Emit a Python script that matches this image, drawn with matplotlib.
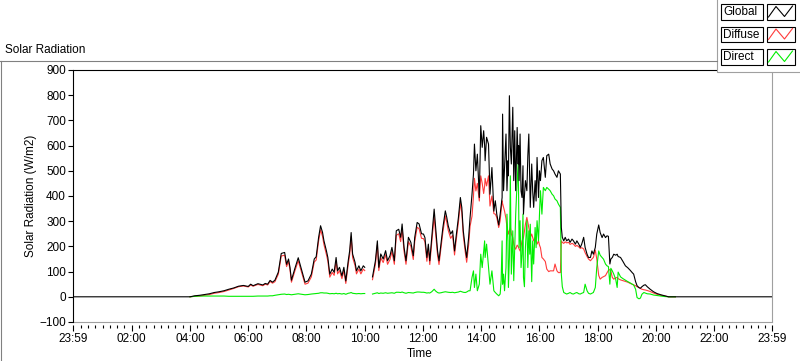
import numpy as np
import matplotlib
matplotlib.use("Agg")
import matplotlib.pyplot as plt
from matplotlib.patches import Rectangle

plt.rcParams['font.family'] = ['Liberation Sans', 'DejaVu Sans']
plt.rcParams['font.size'] = 8

# --- data (W/m2), None = no data ------------------------------------------
times = ["00:00", "04:00", "04:10", "04:20", "04:30", "04:40", "04:50", "05:00",
         "05:10", "05:20", "05:30", "05:40", "05:50", "06:00", "06:05", "06:10",
         "06:20", "06:30", "06:35", "06:40", "06:45", "06:50", "06:55", "07:02",
         "07:08", "07:15", "07:19", "07:23", "07:26", "07:29", "07:36", "07:43",
         "07:50", "07:57", "08:03", "08:10", "08:16", "08:20", "08:25", "08:29",
         "08:33", "08:36", "08:41", "08:44", "08:48", "08:53", "08:57", "09:01",
         "09:04", "09:08", "09:13", "09:17", "09:21", "09:26", "09:29", "09:32",
         "09:35", "09:40", "09:43", "09:48", "09:52", "09:57", "10:00", "10:08",
         "10:16", "10:22", "10:26", "10:29", "10:33", "10:38", "10:43", "10:47",
         "10:52", "10:56", "11:01", "11:05", "11:10", "11:14", "11:17", "11:21",
         "11:25", "11:30", "11:35", "11:40", "11:43", "11:48", "11:52", "11:57",
         "12:01", "12:04", "12:08", "12:11", "12:14", "12:18", "12:23", "12:26",
         "12:30", "12:33", "12:37", "12:41", "12:46", "12:49", "12:52", "12:57",
         "13:01", "13:05", "13:08", "13:13", "13:17", "13:20", "13:23", "13:27",
         "13:30", "13:34", "13:37", "13:41", "13:44", "13:46", "13:49", "13:52",
         "13:56", "13:59", "14:02", "14:05", "14:07", "14:08", "14:11", "14:15",
         "14:18", "14:22", "14:26", "14:29", "14:32", "14:36", "14:39", "14:41",
         "14:43", "14:44", "14:46", "14:48", "14:51", "14:53", "14:55", "14:56",
         "14:58", "15:00", "15:02", "15:05", "15:07", "15:09", "15:11", "15:14",
         "15:16", "15:17", "15:18", "15:20", "15:22", "15:24", "15:26", "15:27",
         "15:29", "15:31", "15:34", "15:36", "15:38", "15:40", "15:41", "15:44",
         "15:46", "15:48", "15:51", "15:53", "15:55", "15:58", "16:00", "16:02",
         "16:05", "16:08", "16:12", "16:15", "16:19", "16:22", "16:26", "16:29",
         "16:32", "16:36", "16:39", "16:43", "16:45", "16:47", "16:50", "16:53",
         "16:56", "17:00", "17:03", "17:07", "17:10", "17:14", "17:17", "17:21",
         "17:24", "17:27", "17:31", "17:34", "17:38", "17:41", "17:45", "17:48",
         "17:51", "17:55", "17:58", "18:02", "18:05", "18:09", "18:12", "18:16",
         "18:19", "18:22", "18:25", "18:27", "18:30", "18:33", "18:37", "18:40",
         "18:42", "18:47", "18:52", "18:57", "19:02", "19:07", "19:11", "19:14",
         "19:18", "19:21", "19:25", "19:28", "19:31", "19:35", "19:38", "19:42",
         "19:48", "19:55", "20:02", "20:10", "20:18", "20:26", "20:40", "23:59"]

global_wm2 = [0, 0, 4, 6, 9, 12, 17, 20,
              24, 30, 35, 42, 45, 41, 50, 44,
              52, 47, 53, 50, 65, 58, 66, 98,
              172, 176, 129, 150, 117, 66, 112, 155,
              106, 58, 63, 90, 150, 159, 236, 282,
              256, 222, 183, 156, 90, 110, 97, 156,
              103, 117, 83, 117, 63, 143, 183, 255,
              170, 137, 103, 123, 103, 123, 117, None,
              79, 143, 222, 117, 170, 150, 183, 143,
              163, 196, 143, 262, 268, 236, 289, 196,
              143, 236, 216, 163, 236, 295, 289, 250,
              249, 235, 156, 209, 143, 235, 348, 275,
              182, 143, 209, 275, 341, 315, 282, 249,
              262, 182, 235, 315, 394, 354, 262, 196,
              156, 235, 315, 407, 487, 606, 500, 566,
              394, 679, 593, 659, 600, 540, 633, 606,
              407, 513, 340, 381, 328, 285, 328, 360,
              394, 725, 421, 514, 646, 421, 540, 480,
              798, 593, 527, 752, 461, 659, 421, 672,
              527, 600, 461, 646, 420, 394, 520, 328,
              400, 461, 421, 560, 646, 450, 355, 527,
              420, 355, 461, 380, 553, 394, 500, 461,
              540, 553, 474, 560, 566, 527, 507, 500,
              487, 474, 500, 487, 275, 236, 222, 236,
              222, 229, 216, 229, 222, 209, 222, 209,
              196, 209, 236, 196, 169, 156, 156, 182,
              169, 196, 249, 285, 255, 235, 249, 235,
              242, 240, 130, 150, 156, 169, 165, 169,
              160, 156, 140, 123, 115, 105, 96, 90,
              60, 44, 36, 34, 40, 46, 48, 40,
              30, 20, 13, 8, 4, 0, 0, 0]

diffuse_wm2 = [None, 0, 2, 3, 6, 9, 14, 17,
               21, 27, 33, 40, 43, 39, 47, 42,
               49, 44, 50, 47, 61, 54, 60, 90,
               162, 165, 120, 140, 108, 58, 102, 143,
               96, 50, 54, 79, 138, 146, 222, 266,
               240, 207, 168, 142, 78, 97, 85, 142,
               91, 104, 72, 104, 53, 129, 168, 238,
               156, 124, 91, 110, 91, 110, 104, None,
               68, 129, 206, 104, 155, 136, 167, 129,
               148, 180, 129, 244, 250, 219, 270, 180,
               129, 219, 200, 148, 219, 276, 270, 232,
               231, 218, 141, 193, 128, 215, 318, 252,
               165, 128, 193, 257, 321, 296, 264, 232,
               244, 166, 218, 296, 372, 334, 244, 179,
               137, 205, 280, 320, 400, 470, 420, 450,
               380, 480, 450, 410, 440, 470, 440, 480,
               360, 400, 330, 328, 315, 275, 302, 340,
               381, 370, 355, 340, 310, 275, 260, 249,
               262, 275, 250, 235, 209, 195, 189, 205,
               200, 195, 190, 182, 200, 222, 230, 235,
               260, 288, 315, 295, 275, 255, 235, 249,
               235, 222, 235, 220, 209, 222, 205, 195,
               156, 150, 140, 110, 100, 103, 103, 103,
               130, 103, 96, 96, 222, 216, 212, 218,
               214, 216, 208, 212, 209, 200, 204, 198,
               192, 195, 190, 175, 160, 150, 143, 150,
               156, 185, 150, 85, 70, 77, 80, 84,
               95, 105, 108, 103, 77, 70, 75, 77,
               72, 67, 64, 61, 58, 53, 50, 47,
               44, 40, 37, 33, 30, 28, 27, 25,
               21, 15, 10, 6, 3, 0, 0, None]

direct_wm2 = [None, 0, 2, 3, 3, 3, 3, 3,
              3, 2, 2, 2, 2, 2, 2, 2,
              3, 3, 3, 3, 4, 4, 6, 8,
              10, 11, 9, 10, 9, 8, 10, 12,
              10, 8, 9, 11, 12, 13, 14, 16,
              16, 15, 15, 14, 12, 13, 12, 14,
              12, 13, 11, 13, 10, 14, 15, 17,
              14, 13, 12, 13, 12, 13, 13, None,
              11, 14, 16, 13, 15, 14, 16, 14,
              15, 16, 14, 18, 18, 17, 19, 16,
              14, 17, 16, 15, 17, 19, 19, 18,
              18, 17, 15, 16, 15, 20, 30, 23,
              17, 15, 16, 18, 20, 19, 18, 17,
              18, 16, 17, 19, 22, 20, 18, 17,
              19, 24, 24, 77, 103, 37, 90, 24,
              50, 169, 116, 182, 222, 156, 209, 116,
              50, 103, 24, 17, 11, 4, 11, 64,
              222, 50, 90, 24, 116, 328, 222, 37,
              156, 480, 90, 262, 64, 195, 328, 461,
              527, 394, 195, 302, 116, 169, 328, 77,
              40, 195, 302, 116, 262, 169, 288, 60,
              222, 130, 275, 195, 302, 222, 328, 421,
              328, 434, 421, 434, 427, 421, 407, 401,
              388, 381, 368, 355, 90, 40, 17, 14,
              11, 14, 17, 12, 11, 15, 17, 12,
              11, 14, 17, 50, 24, 14, 11, 14,
              17, 37, 116, 182, 165, 156, 149, 130,
              123, 120, 50, 113, 103, 90, 70, 37,
              98, 79, 72, 66, 60, 55, 50, 47,
              30, -3, -8, -5, 10, 17, 15, 12,
              11, 7, 5, 3, 1, 0, 0, None]

tick_minutes = [-1, 120, 240, 360, 480, 600, 720, 840, 960, 1080, 1200, 1320, 1439]
tick_labels = ["23:59", "02:00", "04:00", "06:00", "08:00", "10:00", "12:00",
               "14:00", "16:00", "18:00", "20:00", "22:00", "23:59"]
legend_names = ["Global", "Diffuse", "Direct"]
line_colors = ["#000000", "#ff3b3b", "#00ee00"]

# --- convert -----------------------------------------------------------------
minutes = np.array([int(t[:2]) * 60 + int(t[3:]) for t in times], dtype=float)
minutes[-1] = 1439
series = [np.array(s, dtype=float) for s in (global_wm2, diffuse_wm2, direct_wm2)]

fig = plt.figure(figsize=(8, 3.61), dpi=100)
W, H = 800, 361
ax = fig.add_axes([73 / W, 39 / H, 699 / W, 252 / H])

# thin traces; global drawn on top like in the original
for vals, col, z in zip(series, line_colors, (3, 2, 2.5)):
    ax.plot(minutes, vals, color=col, lw=0.8, zorder=z)

ax.set_xlim(-1, 1439)
ax.set_ylim(-100, 900)
ax.set_yticks(np.arange(-100, 901, 100))
ax.set_xticks(tick_minutes)
ax.set_xticklabels(tick_labels)
ax.set_xticks([m for m in range(15, 1439, 15) if m % 120 != 0], minor=True)

for side in ("top", "left"):
    ax.spines[side].set_color("black")
    ax.spines[side].set_linewidth(0.8)
ax.spines["right"].set_color("#a0a0a0")
ax.spines["right"].set_linewidth(0.8)
ax.spines["bottom"].set_position(("outward", 2))
ax.spines["bottom"].set_visible(False)
ax.plot([0, 1], [0, 0], transform=ax.transAxes, color="#a0a0a0", lw=0.8, clip_on=False)

ax.tick_params(axis="x", which="major", direction="out", length=4, width=0.8, pad=2)
ax.tick_params(axis="x", which="minor", direction="out", length=2.2, width=0.8)
ax.tick_params(axis="y", which="major", direction="out", length=3.6, width=0.8, pad=1.5)
ax.tick_params(labelsize=8.5, colors="black")

ax.set_xlabel("Time", fontsize=8.5)
ax.xaxis.set_label_coords(0.496, -0.105)
ax.set_ylabel("Solar Radiation (W/m2)", fontsize=8.5)
ax.yaxis.label.set_va("center")
ax.yaxis.set_label_coords(-0.060, 0.5)

# --- frame, title and legend, drawn in pixel units --------------------------
ov = fig.add_axes([0, 0, 1, 1], zorder=5)
ov.set_xlim(0, W)
ov.set_ylim(H, 0)
ov.set_axis_off()

ov.plot([0, 717], [61, 61], color="#808080", lw=0.8)
ov.plot([1, 1], [61, H], color="#808080", lw=0.8)
ov.text(5, 50, "Solar Radiation", fontsize=8.5, va="center", ha="left")

ov.add_patch(Rectangle((717, -2), 85, 74, fc="white", ec="#a0a0a0", lw=0.8))
row_tops = [4, 26.5, 49]
for y0, name, col in zip(row_tops, legend_names, line_colors):
    h = 15.5
    ov.add_patch(Rectangle((721, y0), 42, h, fc="white", ec="black", lw=0.8))
    ov.text(723.5, y0 + h / 2 + 0.5, name, fontsize=8.5, va="center", ha="left")
    ov.add_patch(Rectangle((766.5, y0), 28, h, fc="white", ec="black", lw=0.8))
    ov.plot([768.5, 776, 784.5, 792.5],
            [y0 + h - 2.5, y0 + 2.5, y0 + h - 3, y0 + 2], color=col, lw=0.8)

fig.savefig("out.png", dpi=100)
